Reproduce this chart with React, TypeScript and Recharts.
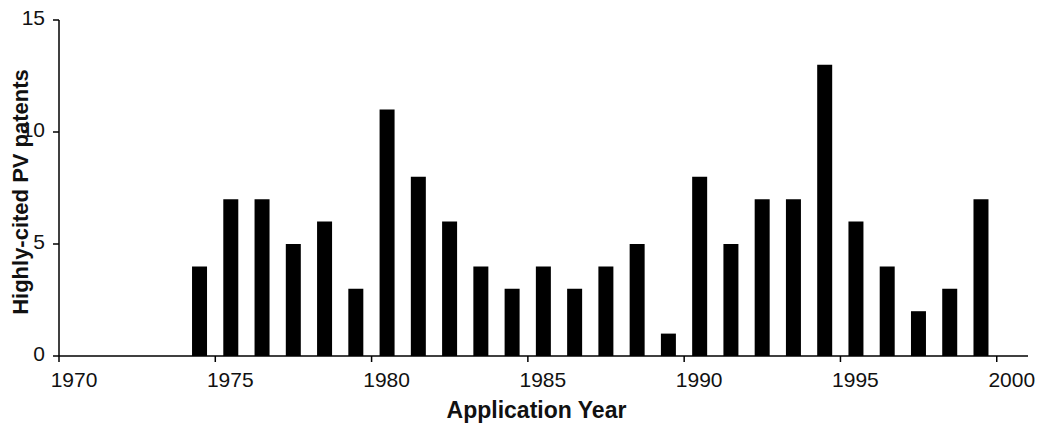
import React from 'react';
import { BarChart, Bar, XAxis, YAxis, Label } from 'recharts';

// application years and count of highly-cited PV patents
const years = [
  1974, 1975, 1976, 1977, 1978, 1979, 1980, 1981, 1982, 1983, 1984, 1985, 1986,
  1987, 1988, 1989, 1990, 1991, 1992, 1993, 1994, 1995, 1996, 1997, 1998, 1999,
];
const patents = [4, 7, 7, 5, 6, 3, 11, 8, 6, 4, 3, 4, 3, 4, 5, 1, 8, 5, 7, 7, 13, 6, 4, 2, 3, 7];

const xTicks = [1970, 1975, 1980, 1985, 1990, 1995, 2000];
const yTicks = [0, 5, 10, 15];

// bars sit in the middle of each year interval
const data = years.map((y, i) => ({ year: y + 0.5, count: patents[i] }));

const font = '"Liberation Sans", Arial, Helvetica, sans-serif';

export default function App() {
  return (
    <div style={{ position: 'absolute', left: 0, top: 0, background: '#fff' }}>
      <BarChart
        width={1042}
        height={426}
        data={data}
        margin={{ top: 20, right: 14, left: 0, bottom: 0 }}
        style={{ fontFamily: font }}
      >
        <XAxis
          type="number"
          dataKey="year"
          domain={[1970, 2001]}
          ticks={xTicks}
          interval={0}
          allowDataOverflow
          height={70}
          tickSize={6}
          tickMargin={10}
          axisLine={{ stroke: '#000', strokeWidth: 1.5 }}
          tickLine={{ stroke: '#000', strokeWidth: 1.5 }}
          tick={{ fill: '#111', fontSize: 21, fontFamily: font, dx: 15 }}
        >
          <Label
            content={({ viewBox }: any) => (
              <text
                x={viewBox.x + viewBox.width / 2 - 7}
                y={viewBox.y + viewBox.height - 8}
                textAnchor="middle"
                fontSize={23}
                fontWeight="bold"
                fill="#111"
                fontFamily={font}
              >
                Application Year
              </text>
            )}
          />
        </XAxis>
        <YAxis
          type="number"
          domain={[0, 15]}
          ticks={yTicks}
          interval={0}
          width={59}
          tickSize={6}
          tickMargin={8}
          axisLine={{ stroke: '#000', strokeWidth: 1.5 }}
          tickLine={{ stroke: '#000', strokeWidth: 1.5 }}
          tick={{ fill: '#111', fontSize: 21, fontFamily: font, dy: -2 }}
        >
          <Label
            content={({ viewBox }: any) => {
              const cx = 20;
              const cy = viewBox.y + viewBox.height / 2 + 4;
              return (
                <text
                  x={cx}
                  y={cy}
                  transform={`rotate(-90 ${cx} ${cy})`}
                  textAnchor="middle"
                  dy="0.36em"
                  fontSize={22}
                  fontWeight="bold"
                  fill="#111"
                  fontFamily={font}
                >
                  Highly-cited PV patents
                </text>
              );
            }}
          />
        </YAxis>
        <Bar dataKey="count" fill="#000" barSize={15} isAnimationActive={false} />
      </BarChart>
    </div>
  );
}
